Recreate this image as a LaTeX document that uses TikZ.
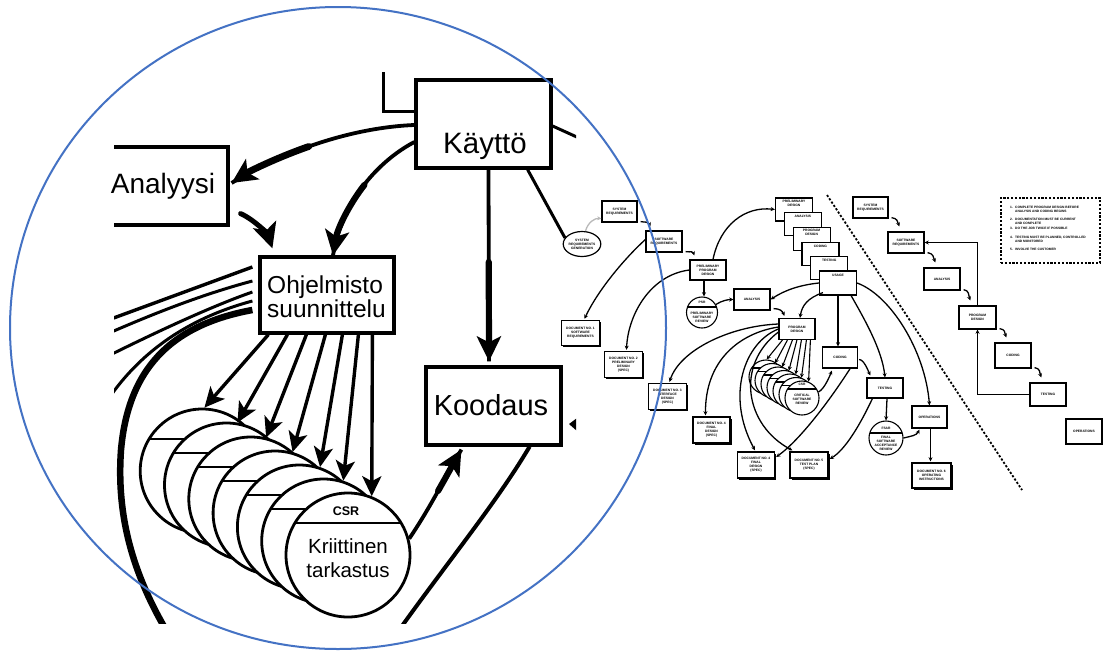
\documentclass[tikz,border=0pt]{standalone}
\usepackage{fontspec}
\setmainfont{Liberation Sans}
\usetikzlibrary{arrows.meta,calc,shapes.geometric,shadows}
\definecolor{lensblue}{RGB}{68,114,196}
\newcommand\rtxt{\fontsize{3.3}{4.0}\selectfont\bfseries}
\newcommand\ntxt{\fontsize{3.25}{3.6}\selectfont\bfseries}

\begin{document}
\begin{tikzpicture}[x=1pt,y=-1pt,
  mbox/.style={draw, line width=3.2pt, fill=white, inner sep=0pt},
  mtxt/.style={inner sep=0pt, anchor=base},
  fan/.style={line width=3.4pt, -{Stealth[length=20pt,width=19pt,inset=5pt]}},
  heavy/.style={line width=6.2pt, line cap=round, -{Stealth[length=25pt,width=24pt,inset=6pt]}},
  heavystem/.style={line width=3.8pt},
  mdisc/.style={circle, draw, line width=2.8pt, fill=white, minimum size=124pt, inner sep=0pt},
  sbox/.style={draw, line width=1.2pt, fill=white, inner sep=0pt, font=\rtxt, align=center},
  sdoc/.style={sbox, line width=1.3pt, drop shadow={fill=black, opacity=1, shadow xshift=1.5pt, shadow yshift=-1.5pt}},
  sdisc/.style={circle, draw, line width=1.1pt, fill=white, inner sep=0pt},
  rlab/.style={font=\rtxt, align=center, inner sep=0pt},
  nlab/.style={font=\ntxt, align=left, inner sep=0pt, anchor=north west},
  sarrow/.style={line width=1.3pt, -{Stealth[length=4.2pt,width=4pt]}},
]
\useasboundingbox (0,0) rectangle (1103,651);
\fill[white] (0,0) rectangle (1103,651);

% ================= magnified detail =================
\begin{scope}
  \clip (114,68) rectangle (576,623);
  % bracket above the usage box
  \draw[line width=3pt] (383,72) -- (383,111) -- (414,111);

  \node[mbox, minimum width=135pt, minimum height=88pt] (kay) at (483.5,124) {};
  \node[mbox, minimum width=128pt, minimum height=78pt] (anl) at (164,186) {};
  \node[mbox, minimum width=134pt, minimum height=76pt] (ohj) at (327,295) {};
  \node[mbox, minimum width=135pt, minimum height=78pt] (koo) at (493.5,406) {};

  % document flows leaving the design box to the left
  \draw[line width=3.4pt] ($(ohj.west)+(-6,-28)$) -- (100,323);
  \draw[line width=3pt] ($(ohj.west)+(-6,-14)$) .. controls (200,295) and (150,315) .. (100,337);
  \draw[line width=3pt] ($(ohj.west)+(-6,-3)$) .. controls (215,305) and (160,330) .. (100,360);
  \draw[line width=3pt] ($(ohj.west)+(-6,6)$) .. controls (200,315) and (140,345) .. (100,412);
  \draw[line width=6.5pt] ($(ohj.west)+(-6,15)$) .. controls (170,325) and (128,370) .. (121,450)
        .. controls (116,520) and (135,580) .. (172,640);

  % stacked critical reviews
  \foreach \i in {0,...,6} {
    \node[mdisc] (m\i) at ({348-(6-\i)*24.3},{555-(6-\i)*14}) {};
    \draw[line width=2.8pt] ($(m\i.center)+(-53,-32)$) -- ($(m\i.center)+(53,-32)$);
  }
  \node[mtxt, font=\fontsize{12.5}{13}\selectfont\bfseries] (csrtag) at (346,515) {CSR};
  \node[mtxt, font=\fontsize{20.5}{21}\selectfont] (krt1) at (348,553) {Kriittinen};
  \node[mtxt, font=\fontsize{20.5}{21}\selectfont] (krt2) at (348,577) {tarkastus};

  \foreach \dx/\i/\a in {10/0/88, 29/1/80, 48/2/76, 67/3/74, 84/4/71, 100/5/72, 114/6/68}
    \draw[fan] ($(ohj.south west)+(\dx,0)$) -- (m\i.\a);

  % heavy arrows: thin stem over the whole run, thicker second half
  \draw[heavystem] ($(kay.west)+(0,1)$) .. controls (340,128) and (268,160) .. ($(anl.east)+(2,-3)$);
  \coordinate (ka) at (308.75,146.5);
  \draw[heavy, line width=6.8pt] (ka) .. controls (276.5,157.75) and (249,171.5) .. ($(anl.east)+(2,-3)$);

  \draw[heavystem] ($(kay.west)+(0,18)$) .. controls (380,160) and (342,200) .. ($(ohj.north)+(6,0)$);
  \coordinate (ko) at (364.4,184.9);
  \draw[heavy] (ko) .. controls (349.25,204.25) and (337.5,228.5) .. ($(ohj.north)+(6,0)$);

  \draw[heavy, line width=5pt] ($(anl.south east)+(11,-13)$) .. controls (255,220) and (268,235) .. ($(ohj.north west)+(14,-7)$);

  \draw[heavystem] ($(kay.south)+(5,0)$) -- ($(koo.north)+(-4.5,-4)$);
  \coordinate (kk) at (488.75,262);
  \draw[heavy] (kk) -- ($(koo.north)+(-4.5,-4)$);

  \draw[heavystem] (m6.15) .. controls (432,505) and (446,475) .. ($(koo.south west)+(37,3)$);
  \coordinate (ck) at (438.1,490.9);
  \draw[heavy] (ck) .. controls (446.75,475.75) and (454.5,461.5) .. ($(koo.south west)+(37,3)$);

  \draw[line width=4pt] ($(koo.south east)+(-33,0)$) .. controls (495,505) and (445,565) .. (392,640);
  \draw[line width=3pt] ($(kay.east)+(0,2)$) -- (590,143);
  \fill (569,424) -- (577,418) -- (577,431) -- cycle;
\end{scope}

\node[mtxt, font=\fontsize{29.5}{30}\selectfont] (kaytxt) at (485,153) {Käyttö};
\node[mtxt, font=\fontsize{28}{30}\selectfont] (anltxt) at (163,193) {Analyysi};
\node[inner sep=0pt, anchor=base west, font=\fontsize{24.5}{24}\selectfont] (ohjtxt1) at (267,293) {Ohjelmisto};
\node[inner sep=0pt, anchor=base west, font=\fontsize{24.5}{24}\selectfont] (ohjtxt2) at (267,317) {suunnittelu};
\node[mtxt, font=\fontsize{29}{30}\selectfont] (kootxt) at (491,415) {Koodaus};

% ================= overview chart =================
\node[ellipse, draw, line width=1.2pt, fill=white, minimum width=35pt, minimum height=25pt, inner sep=0pt, font=\rtxt, align=center] (srg) at (582,244) {SYSTEM\\REQUIREMENTS\\GENERATION};
\draw[line width=3pt] ($(kay.south east)+(-25,0)$) -- (srg.160);

\node[sbox, minimum width=35pt, minimum height=21pt] (sysreq) at (619.5,211.5) {SYSTEM\\REQUIREMENTS};
\node[sbox, minimum width=36pt, minimum height=21pt] (swreq) at (664,241.5) {SOFTWARE\\REQUIREMENTS};
\node[sbox, minimum width=36pt, minimum height=20pt] (ppd) at (708,270) {PRELIMINARY\\PROGRAM\\DESIGN};
\node[sbox, minimum width=36pt, minimum height=21pt] (ana) at (752,299.5) {ANALYSIS};
\node[sbox, minimum width=36pt, minimum height=21pt] (pd) at (797,329) {PROGRAM\\DESIGN};
\node[sbox, minimum width=35pt, minimum height=21pt] (cod) at (840,357.5) {CODING};
\node[sbox, minimum width=36pt, minimum height=20pt] (tst) at (885,388) {TESTING};
\node[sbox, minimum width=35pt, minimum height=22pt] (ops) at (929.5,417) {OPERATIONS};

% iteration stack
\node[sbox, minimum width=37pt, minimum height=23pt] (st1) at (794,209.5) {};
\node[rlab, anchor=north] (st1t) at ($(st1.north)+(0,2.5)$) {PRELIMINARY\\DESIGN};
\node[sbox, minimum width=37pt, minimum height=23pt] (st2) at (802.8,224.2) {};
\node[rlab, anchor=north] (st2t) at ($(st2.north)+(0,3)$) {ANALYSIS};
\node[sbox, minimum width=37pt, minimum height=23pt] (st3) at (811.6,238.9) {};
\node[rlab, anchor=north] (st3t) at ($(st3.north)+(0,2.5)$) {PROGRAM\\DESIGN};
\node[sbox, minimum width=37pt, minimum height=23pt] (st4) at (820.4,253.6) {};
\node[rlab, anchor=north] (st4t) at ($(st4.north)+(0,3)$) {CODING};
\node[sbox, minimum width=37pt, minimum height=23pt] (st5) at (829.2,268.3) {};
\node[rlab, anchor=north] (st5t) at ($(st5.north)+(0,3)$) {TESTING};
\node[sbox, minimum width=37pt, minimum height=24pt] (st6) at (838,283) {};
\node[rlab, anchor=north] (st6t) at ($(st6.north)+(0,4)$) {USAGE};

% reviews
\node[sdisc, minimum size=31pt] (psr) at (702,312.5) {};
\draw[line width=1.1pt] ($(psr.center)+(-14.5,-5.5)$) -- ($(psr.center)+(14.5,-5.5)$);
\node[rlab] (psrtag) at (702,302.8) {PSR};
\node[rlab] (psrtxt) at (702,317) {PRELIMINARY\\SOFTWARE\\REVIEW};

\foreach \i in {0,...,6} {
  \node[sdisc, minimum size=34pt] (s\i) at ({802-(6-\i)*6},{398-(6-\i)*3.5}) {};
  \draw[line width=1.1pt] ($(s\i.center)+(-14.4,-9)$) -- ($(s\i.center)+(14.4,-9)$);
}
\node[rlab] (csrtag2) at (802,384.5) {CSR};
\node[rlab] (csrtxt2) at (802,399.5) {CRITICAL\\SOFTWARE\\REVIEW};

\node[sdisc, minimum size=34pt] (fsar) at (886,438) {};
\draw[line width=1.1pt] ($(fsar.center)+(-16.2,-5)$) -- ($(fsar.center)+(16.2,-5)$);
\node[rlab] (fsartag) at (886,428.5) {FSAR};
\node[rlab] (fsartxt) at (886,443.5) {FINAL\\SOFTWARE\\ACCEPTANCE\\REVIEW};

% documents
\node[sdoc, minimum width=38pt, minimum height=25pt] (doc1) at (580.5,333) {DOCUMENT NO. 1\\SOFTWARE\\REQUIREMENTS};
\node[sdoc, minimum width=38pt, minimum height=26pt] (doc2) at (623.5,364.5) {DOCUMENT NO. 2\\PRELIMINARY\\DESIGN\\(SPEC)};
\node[sdoc, minimum width=38pt, minimum height=26pt] (doc3) at (667.5,396.5) {DOCUMENT NO. 3\\INTERFACE\\DESIGN\\(SPEC)};
\node[sdoc, minimum width=37pt, minimum height=26pt] (doc4a) at (711.5,430) {DOCUMENT NO. 4\\FINAL\\DESIGN\\(SPEC)};
\node[sdoc, minimum width=37pt, minimum height=26pt] (doc4b) at (756,465) {DOCUMENT NO. 4\\FINAL\\DESIGN\\(SPEC)};
\node[sdoc, minimum width=38pt, minimum height=26pt] (doc5) at (809,465) {DOCUMENT NO. 5\\TEST PLAN\\(SPEC)};
\node[sdoc, minimum width=39pt, minimum height=25pt] (doc6) at (931.5,475.5) {DOCUMENT NO. 6\\OPERATING\\INSTRUCTIONS};

% flow of the detailed chart
\draw[sarrow, gray!55] (srg.75) .. controls (588,222) and (595,218) .. ($(sysreq.south west)+(0,-4)$);
\draw[sarrow] ($(sysreq.south east)+(3,-1)$) .. controls +(6,1) and +(-2,-5) .. ($(swreq.north west)+(5,-4)$);
\draw[sarrow] ($(swreq.south east)+(3,-1)$) .. controls +(6,1) and +(-2,-5) .. ($(ppd.north west)+(5,-4)$);
\draw[sarrow] ($(ppd.north)+(5,0)$) .. controls (720,225) and (745,206) .. (st1.west);
\draw[sarrow] ($(ppd.south)+(-4,0)$) -- ($(psr.north)+(2,0)$);
\draw[sarrow] (psr.30) .. controls +(6,-4) and +(-5,0) .. (ana.west);
\draw[sarrow] ($(ana.south east)+(3,-2)$) .. controls +(6,0) and +(-2,-5) .. ($(pd.north west)+(6,-2)$);
\draw[sarrow] (st6.west) .. controls (800,285) and (785,290) .. (ana.east);
\draw[sarrow] ($(st6.south west)+(4,-3)$) .. controls (808,298) and (802,305) .. ($(pd.north)+(3,0)$);
\draw[sarrow] ($(swreq.west)+(0,-2)$) .. controls (625,258) and (598,290) .. ($(doc1.north)+(4,-1)$);
\draw[sarrow] (ppd.west) .. controls (650,275) and (628,315) .. ($(doc2.north)+(3,-1)$);
\draw[sarrow] ($(pd.west)+(0,-5)$) .. controls (730,326) and (680,350) .. ($(doc3.north)+(2,-1)$);
\draw[sarrow] ($(pd.west)+(0,-2)$) .. controls (740,333) and (705,360) .. ($(doc4a.north)+(-6,-1)$);
\draw[sarrow] (pd.west) .. controls (745,342) and (725,395) .. ($(doc4b.north)+(-1,-1)$);
\draw[sarrow] ($(pd.west)+(0,3)$) .. controls (735,365) and (745,425) .. ($(doc5.north west)+(3,-1)$);
\foreach \dx/\i/\a in {4/0/88, 9/1/80, 14/2/76, 18.5/3/74, 23/4/71, 28/5/72, 32/6/68}
  \draw[sarrow, line width=1.1pt] ($(pd.south west)+(\dx,0)$) -- (s\i.\a);
\draw[sarrow] (s6.20) .. controls +(6,-3) and +(-2,5) .. ($(cod.south west)+(10,2)$);
\draw[sarrow] ($(cod.east)+(1,2)$) .. controls +(5,0) and +(-2,-4) .. ($(tst.north west)+(4,-2)$);
\draw[sarrow] (st6.south) -- (st6.south |- cod.north);
\draw[sarrow] ($(st6.south east)+(-6,0)$) .. controls (865,320) and (882,350) .. (tst.north);
\draw[sarrow] (st6.east) .. controls (890,295) and (925,350) .. (ops.north);
\draw[sarrow] ($(tst.south)+(2,0)$) -- (fsar.north);
\draw[sarrow] (fsar.east) .. controls +(8,-2) and +(-3,6) .. ($(ops.south west)+(8,1)$);
\draw[sarrow] ($(ops.south)+(1,0)$) -- ($(doc6.north)+(-1,-1)$);
\draw[sarrow] ($(cod.south east)+(-8,0)$) .. controls (830,400) and (800,440) .. ($(doc4b.east)+(1,-8)$);
\draw[sarrow] ($(tst.south west)+(6,0)$) .. controls (860,425) and (845,450) .. ($(doc5.east)+(1,-6)$);

% dividing line
\coordinate (div1) at (827,195);
\coordinate (div2) at (1022,490);
\draw[line width=1.8pt, dash pattern=on 2.2pt off 1.8pt] (div1) -- (div2);

% simple waterfall
\node[sbox, minimum width=35pt, minimum height=21pt] (rsys) at (870.5,207.5) {SYSTEM\\REQUIREMENTS};
\node[sbox, minimum width=36pt, minimum height=21pt] (rsw) at (906,242.5) {SOFTWARE\\REQUIREMENTS};
\node[sbox, minimum width=36pt, minimum height=22pt] (rana) at (942,279) {ANALYSIS};
\node[sbox, minimum width=37pt, minimum height=23pt] (rpd) at (977.5,317.5) {PROGRAM\\DESIGN};
\node[sbox, minimum width=36pt, minimum height=25pt] (rcod) at (1013,355.5) {CODING};
\node[sbox, minimum width=36pt, minimum height=23pt] (rtst) at (1048,394.5) {TESTING};
\node[sbox, minimum width=36pt, minimum height=25pt] (rops) at (1084,431.5) {OPERATIONS};
\draw[sarrow] ($(rsys.south east)+(3,-1)$) .. controls +(6,1) and +(-2,-5) .. ($(rsw.north west)+(12,-5)$);
\draw[sarrow] ($(rsw.south east)+(3,-1)$) .. controls +(6,1) and +(-2,-5) .. ($(rana.north west)+(12,-5)$);
\draw[sarrow] ($(rana.south east)+(3,-1)$) .. controls +(6,1) and +(-2,-5) .. ($(rpd.north west)+(12,-5)$);
\draw[sarrow] ($(rpd.south east)+(3,-1)$) .. controls +(6,1) and +(-2,-5) .. ($(rcod.north west)+(12,-5)$);
\draw[sarrow] ($(rcod.south east)+(3,-1)$) .. controls +(6,1) and +(-2,-5) .. ($(rtst.north west)+(12,-5)$);
\draw[sarrow] (rpd.north) |- (rsw.east);
\draw[sarrow] (rtst.west) -| (rpd.south);

% principles
\node[draw, line width=1.8pt, dash pattern=on 2.2pt off 1.6pt, minimum width=99pt, minimum height=65pt, inner sep=0pt] (notes) at (1050.5,230.5) {};
\node[nlab] (n1) at (1010,206) {1.};
\node[nlab] (n1t) at (1015,206) {COMPLETE PROGRAM DESIGN BEFORE\\ANALYSIS AND CODING BEGINS};
\node[nlab] (n2) at (1010,218.5) {2.};
\node[nlab] (n2t) at (1015,218.5) {DOCUMENTATION MUST BE CURRENT\\AND COMPLETE};
\node[nlab] (n3) at (1010,227.5) {3.};
\node[nlab] (n3t) at (1015,227.5) {DO THE JOB TWICE IF POSSIBLE};
\node[nlab] (n4) at (1010,236) {4.};
\node[nlab] (n4t) at (1015,236) {TESTING MUST BE PLANNED, CONTROLLED\\AND MONITORED};
\node[nlab] (n5) at (1010,248.5) {5.};
\node[nlab] (n5t) at (1015,248.5) {INVOLVE THE CUSTOMER};

% ================= lens outline =================
\draw[lensblue, line width=2pt] (338,328) ellipse [x radius=328pt, y radius=321pt];
\end{tikzpicture}
\end{document}
